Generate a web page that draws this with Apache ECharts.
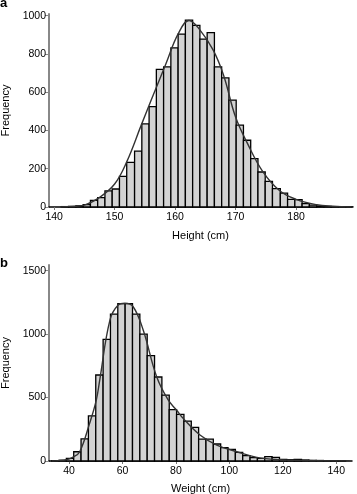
<!DOCTYPE html>
<html>
<head>
<meta charset="utf-8">
<script src="https://cdn.jsdelivr.net/npm/echarts@6/dist/echarts.min.js"></script>
<style>
html,body{margin:0;padding:0;background:#fff;}
#chart{width:357px;height:494px;}
</style>
</head>
<body>
<div id="chart"></div>
<script>
// ---- Panel a: Height ----
const heightEdges = [141.2, 142.4, 143.6, 144.8, 146.0, 147.2, 148.4, 149.6, 150.8, 152.0,
  153.3, 154.5, 155.7, 156.9, 158.1, 159.3, 160.5, 161.7, 162.9, 164.1,
  165.3, 166.5, 167.7, 168.9, 170.1, 171.3, 172.5, 173.7, 174.9, 176.1,
  177.4, 178.6, 179.8, 181.0, 182.2, 183.4, 184.6, 185.8, 187.0, 188.2, 189.4];
const heightCounts = [2, 3, 6, 12, 35, 49, 84, 94, 160, 233,
  292, 435, 525, 719, 733, 832, 904, 977, 950, 878,
  912, 733, 675, 559, 428, 349, 253, 183, 134, 96,
  73, 40, 39, 18, 10, 5, 3, 2, 1, 1];
const heightCurve = [[141.0,0],[143,3],[145,10],[147.5,50],[150,120],[152,236],[154.4,428],[156,555],
  [158.5,750],[160.5,905],[162.3,975],[164,930],[166.3,820],[168,690],[170,470],[172,330],
  [174.5,185],[177.3,85],[180,40],[183.4,12],[186,4],[189.2,0]];
const heightTicksX = [140, 150, 160, 170, 180];
const heightTicksY = [0, 200, 400, 600, 800, 1000];

// ---- Panel b: Weight ----
const weightEdges = [33.5, 36.25, 39.0, 41.75, 44.5, 47.25, 50.0, 52.75, 55.5, 58.25,
  61.0, 63.75, 66.5, 69.25, 72.0, 74.75, 77.5, 80.25, 83.0, 85.75,
  88.5, 91.25, 94.0, 96.75, 99.5, 102.25, 105.0, 107.75, 110.5, 113.25,
  116.0, 118.75, 121.5, 124.25, 127.0, 129.75, 132.5, 135.25, 138.0, 140.75, 143.5];
const weightCounts = [2, 6, 20, 73, 175, 355, 678, 959, 1158, 1240,
  1240, 1158, 1000, 831, 662, 520, 405, 368, 315, 265,
  173, 173, 134, 105, 92, 68, 42, 26, 21, 34,
  29, 13, 10, 12, 8, 5, 4, 3, 2, 1];
const weightCurve = [[33.5,0],[36,3],[39,10],[41.5,30],[44,73],[47.7,297],[50.2,480],[51.5,640],
  [55.3,1110],[58.4,1229],[60.9,1243],[64,1216],[67.75,1032],[72.8,664],[77.1,481],[80.3,400],
  [82.7,336],[89,205],[95.3,126],[102.8,73],[110.3,29],[119,10],[128,4],[145,1]];
const weightTicksX = [40, 60, 80, 100, 120, 140];
const weightTicksY = [0, 500, 1000, 1500];

const FONT = '"Liberation Sans", Arial, Helvetica, sans-serif';

function binData(edges, counts) {
  return counts.map((c, i) => [edges[i], edges[i + 1], c]);
}

function renderBar(params, api) {
  const p0 = api.coord([api.value(0), api.value(2)]);
  const p1 = api.coord([api.value(1), 0]);
  return {
    type: 'rect',
    shape: { x: p0[0], y: p0[1], width: p1[0] - p0[0], height: p1[1] - p0[1] },
    style: { fill: '#d3d3d3', stroke: '#000', lineWidth: 1.3 }
  };
}

const plain = v => String(v);

function xAxisCfg(idx, min, max, ticks, name, gap) {
  return {
    type: 'value', gridIndex: idx, min: min, max: max,
    name: name, nameLocation: 'middle', nameGap: gap,
    nameTextStyle: { fontFamily: FONT, fontSize: 11, color: '#000' },
    axisLine: { onZero: false, lineStyle: { color: '#000', width: 1.5 } },
    axisTick: { customValues: ticks, length: 3, lineStyle: { color: '#777', width: 1 } },
    axisLabel: { customValues: ticks, formatter: plain, margin: 5, fontFamily: FONT, fontSize: 10.5, color: '#000' },
    splitLine: { show: false }
  };
}

function yAxisCfg(idx, min, max, ticks, gap) {
  return {
    type: 'value', gridIndex: idx, min: min, max: max,
    name: 'Frequency', nameLocation: 'middle', nameGap: gap, nameRotate: 90,
    nameTextStyle: { fontFamily: FONT, fontSize: 11, color: '#000' },
    axisLine: { show: true, lineStyle: { color: '#888', width: 2 } },
    axisTick: { show: true, customValues: ticks, length: 4, lineStyle: { color: '#888', width: 1 } },
    axisLabel: { customValues: ticks, formatter: plain, margin: 3, fontFamily: FONT, fontSize: 10.5, color: '#000' },
    splitLine: { show: false }
  };
}

const chart = echarts.init(document.getElementById('chart'), null, { renderer: 'canvas' });
chart.setOption({
  animation: false,
  backgroundColor: '#fff',
  title: [
    { text: 'a', left: 0, top: -3, padding: 0, textStyle: { fontFamily: FONT, fontSize: 13, fontWeight: 'bold', color: '#000' } },
    { text: 'b', left: 0, top: 257, padding: 0, textStyle: { fontFamily: FONT, fontSize: 13, fontWeight: 'bold', color: '#000' } }
  ],
  grid: [
    { left: 49, top: 14, width: 303, height: 193, outerBoundsMode: 'none', containLabel: false },
    { left: 49, top: 265, width: 303, height: 196, outerBoundsMode: 'none', containLabel: false }
  ],
  xAxis: [
    xAxisCfg(0, 139.15, 189.25, heightTicksX, 'Height (cm)', 23),
    xAxisCfg(1, 32.5, 145.9, weightTicksX, 'Weight (cm)', 22)
  ],
  yAxis: [
    yAxisCfg(0, 0, 1009, heightTicksY, 37),
    yAxisCfg(1, 0, 1545, weightTicksY, 37)
  ],
  series: [
    { type: 'custom', xAxisIndex: 0, yAxisIndex: 0, renderItem: renderBar,
      encode: { x: [0, 1], y: 2 }, data: binData(heightEdges, heightCounts), z: 2 },
    { type: 'line', xAxisIndex: 0, yAxisIndex: 0, data: heightCurve, smooth: 0.4,
      symbol: 'none', lineStyle: { color: '#333', width: 1.4 }, z: 3 },
    { type: 'custom', xAxisIndex: 1, yAxisIndex: 1, renderItem: renderBar,
      encode: { x: [0, 1], y: 2 }, data: binData(weightEdges, weightCounts), z: 2 },
    { type: 'line', xAxisIndex: 1, yAxisIndex: 1, data: weightCurve, smooth: 0.4,
      symbol: 'none', lineStyle: { color: '#333', width: 1.4 }, z: 3 }
  ]
});
</script>
</body>
</html>
